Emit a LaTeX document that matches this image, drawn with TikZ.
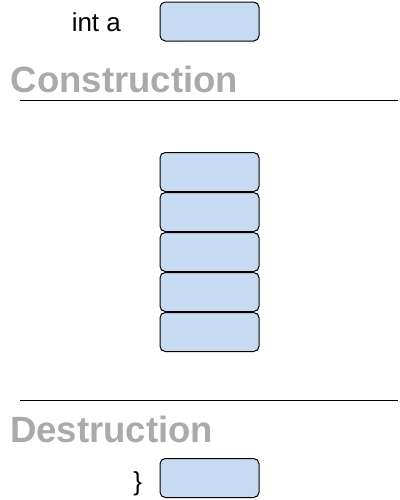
\documentclass[tikz,border=0pt]{standalone}
\usepackage{fontspec}
\setmainfont{Liberation Sans}
\usetikzlibrary{positioning}
\definecolor{cellblue}{RGB}{198,219,241}
\definecolor{headgray}{RGB}{170,170,170}

\tikzstyle{cell} = [draw, rounded corners=4pt, line width=.75pt,
    fill=cellblue, minimum width=74.25pt, minimum height=29.25pt, inner sep=0pt]
\tikzstyle{code} = [inner sep=0pt, anchor=base west,
    font=\fontsize{19.5}{20}\selectfont]
\tikzstyle{heading} = [inner sep=0pt, anchor=base west, text=headgray,
    font=\fontsize{27.4}{28}\selectfont\bfseries]
\tikzstyle{rule} = [line width=.75pt]

\begin{document}
\begin{tikzpicture}[x=.75pt, y=-.75pt]
  \useasboundingbox (0,0) rectangle (400,500);

  \node (a) [cell] at (209.5,21.5) {};
  \node (decl) [code] at (71.5,31) {int a};
  \node (constr) [heading] at (10.5,92) {Construction};
  \coordinate (c1) at (20,100);
  \coordinate (c2) at (398,100);
  \draw [rule] (c1) -- (c2);

  \node (s1) [cell] at (209.5,172) {};
  \node (s2) [cell, below=0pt of s1] {};
  \node (s3) [cell, below=0pt of s2] {};
  \node (s4) [cell, below=0pt of s3] {};
  \node (s5) [cell, below=0pt of s4] {};

  \coordinate (d1) at (20,400);
  \coordinate (d2) at (398,400);
  \draw [rule] (d1) -- (d2);
  \node (destr) [heading] at (10,442) {Destruction};
  \node (close) [code] at (133,490) {\}};
  \node (b) [cell] at (209.5,478) {};
\end{tikzpicture}
\end{document}
